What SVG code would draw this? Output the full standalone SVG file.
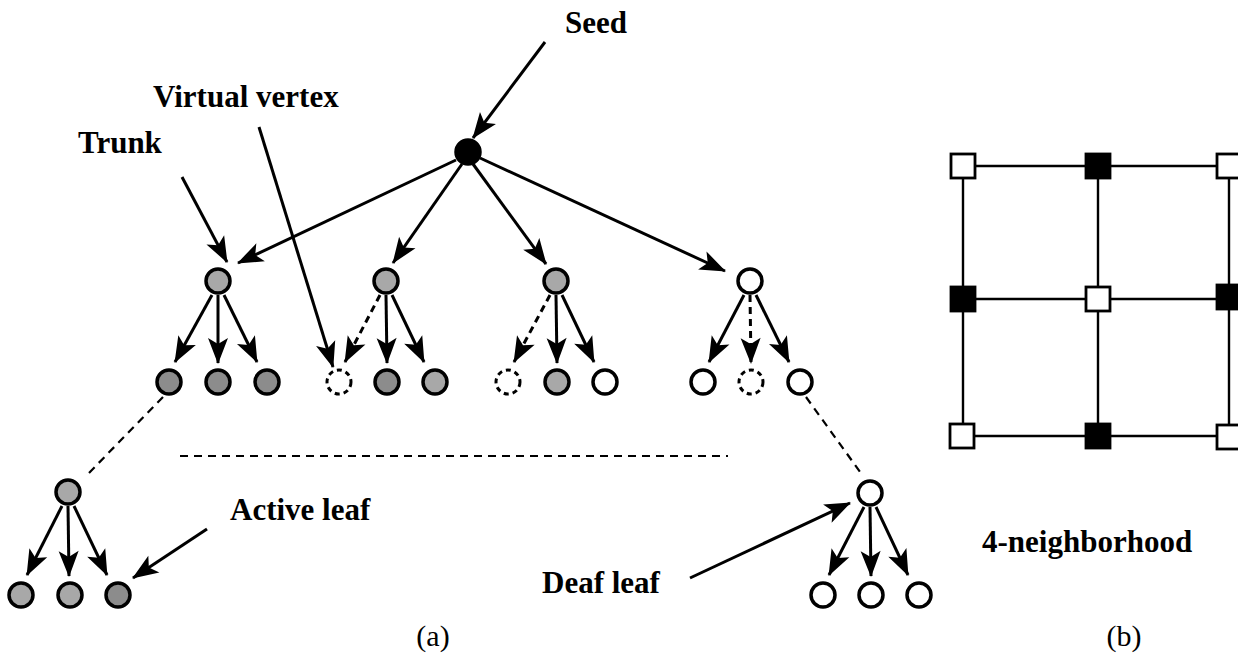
<svg xmlns="http://www.w3.org/2000/svg" width="1238" height="663" viewBox="0 0 1238 663">
<style>
.lbl{font-family:"Liberation Serif","Times New Roman",serif;font-weight:bold;font-size:31px;fill:#000}
.cap{font-family:"Liberation Serif","Times New Roman",serif;font-size:30px;fill:#000}
.n{stroke:#000;stroke-width:3.5}
.g{fill:#a8a8a8}
.gd{fill:#8c8c8c}
.w{fill:#fff}
.b{fill:#000}
.v{fill:#fff;stroke:#000;stroke-width:3;stroke-dasharray:5 4}
.a{stroke:#000;stroke-width:3;fill:none;marker-end:url(#ah)}
.ad{stroke:#000;stroke-width:3;fill:none;stroke-dasharray:7 5;marker-end:url(#ah)}
.d{stroke:#000;stroke-width:2.2;fill:none;stroke-dasharray:8 6}
.gl{stroke:#000;stroke-width:2.4}
.sq{stroke:#000;stroke-width:2.8}
</style>
<defs>
<marker id="ah" markerUnits="userSpaceOnUse" markerWidth="30" markerHeight="24" refX="0" refY="0" viewBox="-28 -12 30 24" orient="auto" overflow="visible">
<path d="M1,0 L-25,-10 L-19,0 L-25,10 Z" fill="#000"/>
</marker>
</defs>
<g id="connectors">
<line class="a" x1="545" y1="42" x2="473" y2="138"/>
<line class="a" x1="182" y1="177" x2="227" y2="262"/>
<line class="a" x1="259" y1="127" x2="333" y2="367"/>
<line class="a" x1="207" y1="529" x2="133" y2="578"/>
<line class="a" x1="690" y1="578" x2="850" y2="503"/>
<line class="a" x1="456" y1="160" x2="238" y2="263"/>
<line class="a" x1="462" y1="164" x2="393" y2="263"/>
<line class="a" x1="473" y1="164" x2="546" y2="264"/>
<line class="a" x1="480" y1="158" x2="725" y2="271"/>
<line class="a" x1="212" y1="295" x2="175" y2="362"/>
<line class="a" x1="218" y1="295" x2="218" y2="363"/>
<line class="a" x1="224" y1="295" x2="257" y2="362"/>
<line class="ad" x1="380" y1="295" x2="345" y2="362"/>
<line class="a" x1="386" y1="295" x2="387" y2="363"/>
<line class="a" x1="392" y1="295" x2="424" y2="362"/>
<line class="ad" x1="550" y1="295" x2="514" y2="362"/>
<line class="a" x1="556" y1="295" x2="557" y2="363"/>
<line class="a" x1="562" y1="295" x2="594" y2="362"/>
<line class="a" x1="744" y1="295" x2="709" y2="362"/>
<line class="ad" x1="750" y1="295" x2="751" y2="363"/>
<line class="a" x1="756" y1="295" x2="789" y2="362"/>
<line class="a" x1="62" y1="506" x2="27" y2="575"/>
<line class="a" x1="68" y1="506" x2="69" y2="576"/>
<line class="a" x1="74" y1="506" x2="107" y2="575"/>
<line class="a" x1="864" y1="507" x2="829" y2="575"/>
<line class="a" x1="870" y1="507" x2="871" y2="576"/>
<line class="a" x1="876" y1="507" x2="908" y2="575"/>
<line class="d" x1="163" y1="397" x2="86" y2="476"/>
<line class="d" x1="806" y1="397" x2="863" y2="476"/>
<line class="d" x1="180" y1="456" x2="728" y2="456"/>
</g>
<g id="seed"><circle class="n b" cx="468" cy="152" r="12"/></g>
<g id="t1"><circle class="n g" cx="218" cy="281" r="12"/></g>
<g id="t2"><circle class="n g" cx="386" cy="281" r="12"/></g>
<g id="t3"><circle class="n g" cx="556" cy="281" r="12"/></g>
<g id="t4"><circle class="n w" cx="750" cy="281" r="12"/></g>
<g id="c1a"><circle class="n gd" cx="169" cy="382" r="12"/></g>
<g id="c1b"><circle class="n gd" cx="218" cy="382" r="12"/></g>
<g id="c1c"><circle class="n gd" cx="267" cy="382" r="12"/></g>
<g id="c2a"><circle class="v" cx="339" cy="382" r="12"/></g>
<g id="c2b"><circle class="n gd" cx="387" cy="382" r="12"/></g>
<g id="c2c"><circle class="n g" cx="435" cy="382" r="12"/></g>
<g id="c3a"><circle class="v" cx="508" cy="382" r="12"/></g>
<g id="c3b"><circle class="n g" cx="557" cy="382" r="12"/></g>
<g id="c3c"><circle class="n w" cx="605" cy="382" r="12"/></g>
<g id="c4a"><circle class="n w" cx="703" cy="382" r="12"/></g>
<g id="c4b"><circle class="v" cx="751" cy="382" r="12"/></g>
<g id="c4c"><circle class="n w" cx="800" cy="382" r="12"/></g>
<g id="bl"><circle class="n g" cx="68" cy="492" r="12"/></g>
<g id="bl1"><circle class="n g" cx="21" cy="595" r="12"/></g>
<g id="bl2"><circle class="n g" cx="70" cy="595" r="12"/></g>
<g id="bl3"><circle class="n gd" cx="118" cy="595" r="12"/></g>
<g id="br"><circle class="n w" cx="870" cy="493" r="12"/></g>
<g id="br1"><circle class="n w" cx="823" cy="595" r="12"/></g>
<g id="br2"><circle class="n w" cx="871" cy="595" r="12"/></g>
<g id="br3"><circle class="n w" cx="919" cy="595" r="12"/></g>
<g id="labels">
<text class="lbl" x="565" y="33">Seed</text>
<text class="lbl" x="153" y="107">Virtual vertex</text>
<text class="lbl" x="78" y="153">Trunk</text>
<text class="lbl" x="230" y="520">Active leaf</text>
<text class="lbl" x="542" y="593">Deaf leaf</text>
<text class="lbl" x="982" y="552">4-neighborhood</text>
<text class="cap" x="433" y="646" text-anchor="middle">(a)</text>
<text class="cap" x="1124" y="646" text-anchor="middle">(b)</text>
</g>
<g id="grid">
<line class="gl" x1="963" y1="166" x2="1229" y2="166"/>
<line class="gl" x1="963" y1="299" x2="1229" y2="299"/>
<line class="gl" x1="963" y1="436" x2="1229" y2="436"/>
<line class="gl" x1="963" y1="166" x2="963" y2="436"/>
<line class="gl" x1="1098" y1="166" x2="1098" y2="436"/>
<line class="gl" x1="1229" y1="166" x2="1229" y2="436"/>
</g>
<g id="sq11"><rect class="sq w" x="951" y="154" width="24" height="24"/></g>
<g id="sq12"><rect class="sq b" x="1086" y="154" width="24" height="24"/></g>
<g id="sq13"><rect class="sq w" x="1217" y="154" width="24" height="24"/></g>
<g id="sq21"><rect class="sq b" x="951" y="287" width="24" height="24"/></g>
<g id="sq22"><rect class="sq w" x="1086" y="287" width="24" height="24"/></g>
<g id="sq23"><rect class="sq b" x="1217" y="285" width="24" height="24"/></g>
<g id="sq31"><rect class="sq w" x="950" y="424" width="24" height="24"/></g>
<g id="sq32"><rect class="sq b" x="1086" y="424" width="24" height="24"/></g>
<g id="sq33"><rect class="sq w" x="1217" y="425" width="24" height="24"/></g>
</svg>
